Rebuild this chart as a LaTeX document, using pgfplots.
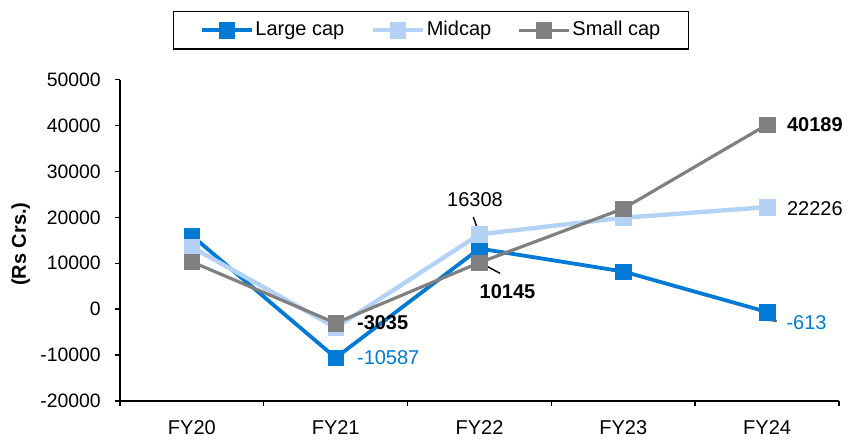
\documentclass[border=0pt]{standalone}
\usepackage{pgfplots}
\pgfplotsset{compat=1.18}
\usepackage{fontspec}
\setmainfont{Liberation Sans}

\definecolor{largecap}{RGB}{0,122,212}
\definecolor{midcap}{RGB}{180,210,245}
\definecolor{smallcap}{RGB}{128,128,128}

\begin{document}
\begin{tikzpicture}
\begin{axis}[
  scale only axis,
  width=359.5pt, height=160.7pt,
  xmin=-0.5, xmax=4.5,
  ymin=-20000, ymax=50000,
  ytick={-20000,-10000,...,50000},
  scaled y ticks=false,
  clip=false,
  axis x line*=bottom,
  axis y line*=left,
  axis line style={-, line width=0.7pt, black},
  tick style={line width=0.7pt, black},
  tick align=outside,
  major tick length=2.6pt,
  xtick={-0.5,0.5,...,4.5},
  xticklabels={},
  extra x ticks={0,1,2,3,4},
  extra x tick labels={FY20,FY21,FY22,FY23,FY24},
  extra x tick style={major tick length=0pt, xticklabel style={yshift=-6pt}},
  /pgf/number format/1000 sep={},
  /pgf/number format/assume math mode=true,
  tick label style={font=\fontsize{10}{12}\selectfont, black},
  yticklabel style={font=\fontsize{9.7}{12}\selectfont, xshift=-3.5pt},
  ylabel={\textbf{(Rs Crs.)}},
  ylabel style={font=\fontsize{10}{12}\selectfont, at={(axis description cs:-0.138,0.488)}, anchor=center},
  legend columns=3,
  legend style={
    at={(0.4325,1.1537)}, anchor=center,
    draw=black, line width=0.6pt,
    font=\fontsize{10}{12}\selectfont,
    inner xsep=13pt, inner ysep=4pt,
    /tikz/every even column/.append style={column sep=12pt},
    nodes={inner sep=1pt},
  },
  legend image code/.code={
    \draw[mark repeat=2, mark phase=2, #1] plot coordinates {(0pt,0pt) (12.5pt,0pt) (25pt,0pt)};
  },
  every axis plot/.append style={mark=square*, mark size=3.9pt, mark options={solid, rounded corners=0.6pt}},
]

\addplot[color=largecap, line width=1.9pt, mark options={fill=largecap, draw=largecap, line width=0.2pt}]
  coordinates {(0,16000) (1,-10587) (2,13200) (3,8200) (4,-613)};
\addlegendentry{Large cap}

\addplot[color=midcap, line width=2.2pt, mark options={fill=midcap, draw=midcap, line width=0.2pt}]
  coordinates {(0,13500) (1,-4000) (2,16308) (3,19900) (4,22226)};
\addlegendentry{Midcap}

\addplot[color=smallcap, line width=1.6pt, mark options={fill=smallcap, draw=smallcap, line width=0.2pt}]
  coordinates {(0,10300) (1,-3035) (2,10145) (3,21900) (4,40189)};
\addlegendentry{Small cap}

% value labels and leader lines
\begin{scope}[every node/.style={inner sep=0pt, font=\fontsize{10}{12}\selectfont}]
  \node[anchor=west, xshift=9.8pt] at (axis cs:4,40189) {\textbf{40189}};
  \node[anchor=west, xshift=9.8pt, yshift=-0.7pt] at (axis cs:4,22226) {22226};
  \node[anchor=west, xshift=9.5pt, yshift=-5.5pt, text=largecap] at (axis cs:4,-613) {-613};
  \draw[line width=0.7pt] ([xshift=-0.2pt, yshift=0.85pt]axis cs:4,-613) -- ([xshift=0.1pt, yshift=-4.15pt]axis cs:4,-613) -- ([xshift=4.8pt, yshift=-4.5pt]axis cs:4,-613);

  \node[anchor=center, xshift=-2.25pt, yshift=17.5pt] at (axis cs:2,16308) {16308};
  \draw[line width=0.7pt] ([xshift=-3.1pt, yshift=8.65pt]axis cs:2,16308) -- ([xshift=-0.1pt, yshift=0.35pt]axis cs:2,16308);

  \node[anchor=center, xshift=14pt, yshift=-14.7pt] at (axis cs:2,10145) {\textbf{10145}};
  \draw[line width=0.7pt] ([xshift=0.25pt]axis cs:2,10145) -- ([xshift=10.25pt, yshift=-5.35pt]axis cs:2,10145);

  \node[anchor=west, xshift=10.5pt] at (axis cs:1,-3035) {\textbf{-3035}};
  \node[anchor=west, xshift=10.5pt, text=largecap] at (axis cs:1,-10587) {-10587};
\end{scope}
\end{axis}
% page extent
\path (-60pt,-19.5pt) rectangle (368.5pt,200.5pt);
\end{tikzpicture}
\end{document}
